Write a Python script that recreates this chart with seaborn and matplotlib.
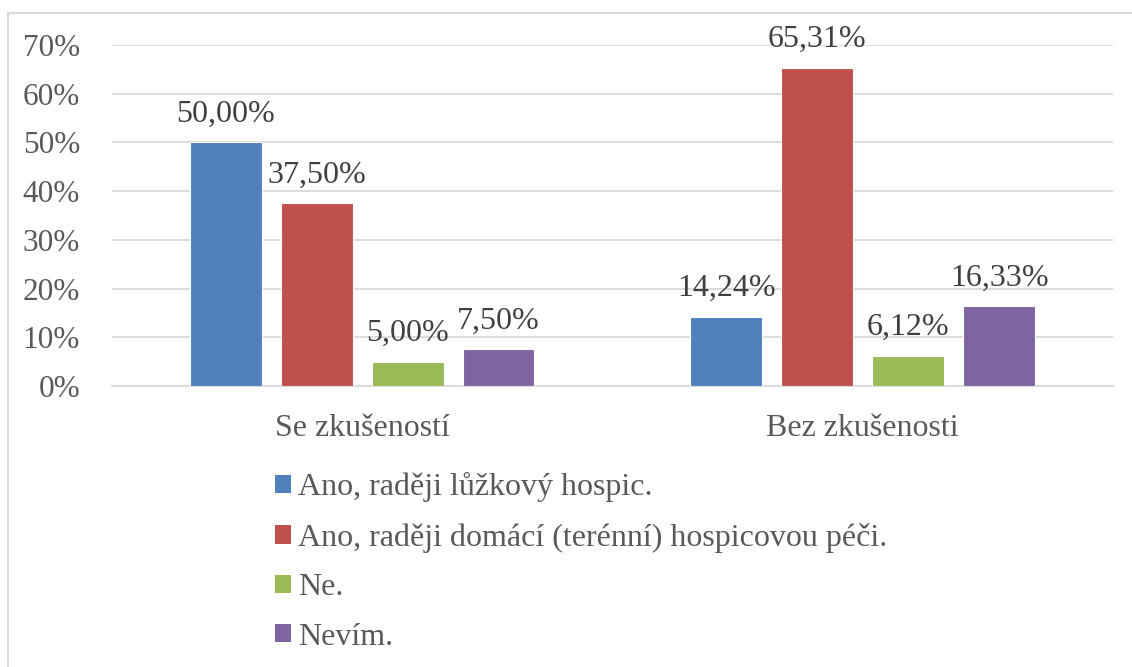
import matplotlib
matplotlib.use("Agg")
import matplotlib.pyplot as plt  # noqa: E402
import pandas as pd  # noqa: E402
import seaborn as sns  # noqa: E402
from matplotlib.lines import Line2D  # noqa: E402
from matplotlib.patches import Patch  # noqa: E402

# ---------------- data ----------------
groups = ["Se zkušeností", "Bez zkušenosti"]
answers = ["Ano, raději lůžkový hospic.",
           "Ano, raději domácí (terénní) hospicovou péči.",
           "Ne.",
           "Nevím."]
se_zkusenosti = [0.5000, 0.3750, 0.0500, 0.0750]
bez_zkusenosti = [0.1424, 0.6531, 0.0612, 0.1633]
y_ticks = [0.0, 0.1, 0.2, 0.3, 0.4, 0.5, 0.6, 0.7]

colors = ["#4F81BD", "#C0504D", "#9BBB59", "#8064A2"]
TEXT = "#595959"
GRID = "#D9D9D9"

df = pd.DataFrame({
    "group": [groups[0]] * 4 + [groups[1]] * 4,
    "answer": answers * 2,
    "value": se_zkusenosti + bez_zkusenosti,
})

sns.set_theme(style="white")
plt.rcParams["font.family"] = ["Liberation Serif", "DejaVu Serif"]

fig = plt.figure(figsize=(11.32, 6.67), dpi=100)
ax = fig.add_axes([0.0989, 0.4213, 0.8843, 0.5112])

sns.barplot(df, x="group", y="value", hue="answer", hue_order=answers,
            palette=colors, width=0.7265, gap=0.21, saturation=1,
            edgecolor="white", linewidth=0.8, legend=False, ax=ax, zorder=3)

for cont in ax.containers:
    labels = [f"{v * 100:.2f}%".replace(".", ",") for v in cont.datavalues]
    ax.bar_label(cont, labels=labels, padding=10, fontsize=23, color="#404040")

ax.set_ylim(0, 0.7)
ax.set_xlim(-0.5, 1.5)
ax.set_yticks(y_ticks)
ax.set_yticklabels([f"{int(round(t * 100))}%" for t in y_ticks])
ax.yaxis.grid(True, color=GRID, linewidth=1.3, zorder=0)
ax.set_axisbelow(True)
ax.set_xlabel("")
ax.set_ylabel("")
for s in ["top", "right", "left"]:
    ax.spines[s].set_visible(False)
ax.spines["bottom"].set_color(GRID)
ax.spines["bottom"].set_linewidth(1.3)
ax.tick_params(axis="y", labelsize=22.5, labelcolor=TEXT, length=0, pad=23)
ax.tick_params(axis="x", labelsize=23, labelcolor=TEXT, length=0, pad=20)

handles = [Patch(facecolor=c, edgecolor="none") for c in colors]
fig.legend(handles, answers, loc="upper left", bbox_to_anchor=(0.2315, 0.311),
           frameon=False, fontsize=23, labelcolor=TEXT, handlelength=0.5,
           handleheight=0.5, handletextpad=0.22, labelspacing=0.64,
           borderaxespad=0)

# outer chart border (top and left visible)
fig.add_artist(Line2D([0.0071, 1.0], [1 - 13 / 667, 1 - 13 / 667],
                      color=GRID, linewidth=1.5, transform=fig.transFigure))
fig.add_artist(Line2D([0.0071, 0.0071], [0.0, 1 - 13 / 667],
                      color=GRID, linewidth=1.5, transform=fig.transFigure))

fig.savefig("out.png", dpi=100, facecolor="white")
plt.close("all")
